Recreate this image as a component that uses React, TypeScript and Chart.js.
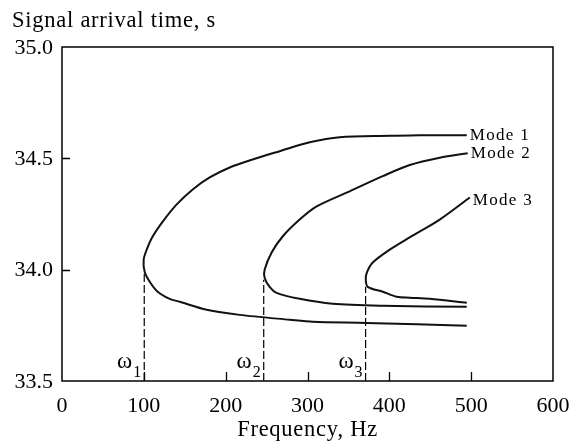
import React, { useEffect, useRef } from "react";
import { Chart, registerables } from "chart.js";

Chart.register(...registerables);

// ---- Data ----
const MODE1_FREQ = [494.6, 437, 400.5, 339.4, 302.7, 266, 233, 204.9, 180.5, 159.7, 140.2, 123.1, 110.8, 103.5, 99.8, 101, 107.2, 116.9, 131.6, 143.8, 176.8, 217.1, 278.3, 306.4, 372.3, 494.6];
const MODE1_TIME = [34.604, 34.604, 34.601, 34.595, 34.572, 34.532, 34.495, 34.459, 34.414, 34.36, 34.293, 34.216, 34.149, 34.09, 34.045, 33.991, 33.946, 33.901, 33.869, 33.856, 33.82, 33.797, 33.775, 33.766, 33.761, 33.748];

const MODE2_FREQ = [495.8, 461.6, 424.9, 391.9, 351.5, 311.2, 290.4, 269.6, 256.2, 247.6, 247.6, 253.7, 262.2, 290.4, 330.7, 391.9, 494.6];
const MODE2_TIME = [34.523, 34.503, 34.47, 34.42, 34.352, 34.284, 34.225, 34.149, 34.077, 34.0, 33.964, 33.923, 33.896, 33.869, 33.847, 33.838, 33.833];

const MODE3_FREQ = [498.3, 461.6, 424.9, 400.5, 379.7, 372.4, 371.2, 373.6, 392, 409, 425, 449.3, 494.6];
const MODE3_TIME = [34.324, 34.225, 34.145, 34.09, 34.032, 33.986, 33.955, 33.923, 33.901, 33.878, 33.874, 33.869, 33.851];

const MODE_LABELS = ["Mode 1", "Mode 2", "Mode 3"];

const OMEGA_FREQ = [100.5, 246.5, 371];
const OMEGA_TOP = [33.985, 33.955, 33.923];
const OMEGA_SUB = ["1", "2", "3"];

const X_TICKS = [0, 100, 200, 300, 400, 500, 600];
const Y_TICKS = ["33.5", "34.0", "34.5", "35.0"];
const X_INNER_TICKS = [100, 200, 300, 400, 500];
const Y_INNER_TICKS = [34.0, 34.5];

const X_TITLE = "Frequency, Hz";
const Y_TITLE = "Signal arrival time, s";

const SERIF = "'Liberation Serif', 'Times New Roman', serif";

function pts(xs: number[], ys: number[]) {
  return xs.map((x, i) => ({ x, y: ys[i] }));
}

const annotatePlugin = {
  id: "annotate",
  afterDraw(chart: any) {
    const ctx: CanvasRenderingContext2D = chart.ctx;
    const xs = chart.scales.x;
    const ys = chart.scales.y;
    const a = chart.chartArea;
    ctx.save();
    ctx.strokeStyle = "#000";
    ctx.fillStyle = "#000";

    // frame
    ctx.lineWidth = 1.5;
    ctx.strokeRect(a.left, a.top, a.right - a.left, a.bottom - a.top);

    // inward ticks
    ctx.lineWidth = 1.3;
    ctx.beginPath();
    X_INNER_TICKS.forEach((v) => {
      const px = Math.round(xs.getPixelForValue(v)) + 0.5;
      ctx.moveTo(px, a.bottom);
      ctx.lineTo(px, a.bottom - 9);
    });
    Y_INNER_TICKS.forEach((v) => {
      const py = Math.round(ys.getPixelForValue(v)) + 0.5;
      ctx.moveTo(a.left, py);
      ctx.lineTo(a.left + 8, py);
    });
    ctx.stroke();

    // tick labels
    ctx.font = `22px ${SERIF}`;
    ctx.textAlign = "center";
    ctx.textBaseline = "alphabetic";
    X_TICKS.forEach((v) => {
      ctx.fillText(String(v), xs.getPixelForValue(v), a.bottom + 31);
    });
    ctx.textAlign = "right";
    ctx.textBaseline = "middle";
    Y_TICKS.forEach((t) => {
      ctx.fillText(t, a.left - 9, ys.getPixelForValue(parseFloat(t)) + 1);
    });

    // titles
    ctx.font = `22.5px ${SERIF}`;
    (ctx as any).letterSpacing = "0.75px";
    ctx.textBaseline = "alphabetic";
    ctx.textAlign = "left";
    ctx.fillText(Y_TITLE, 12, 27);
    ctx.textAlign = "center";
    ctx.fillText(X_TITLE, (a.left + a.right) / 2, a.bottom + 55);

    // mode labels
    ctx.font = `17px ${SERIF}`;
    (ctx as any).letterSpacing = "1.3px";
    ctx.textAlign = "left";
    ctx.textBaseline = "middle";
    const ends = [
      [MODE1_FREQ[0], MODE1_TIME[0]],
      [MODE2_FREQ[0], MODE2_TIME[0]],
      [MODE3_FREQ[0], MODE3_TIME[0]],
    ];
    ends.forEach((e, i) => {
      const px = xs.getPixelForValue(e[0]);
      const py = ys.getPixelForValue(e[1]);
      ctx.fillText(MODE_LABELS[i], px + 3, py + (i === 2 ? 3 : 0));
    });

    // omega labels
    (ctx as any).letterSpacing = "0px";
    ctx.textBaseline = "alphabetic";
    ctx.textAlign = "right";
    OMEGA_FREQ.forEach((f, i) => {
      const lx = xs.getPixelForValue(f);
      ctx.font = `16px ${SERIF}`;
      const subRight = lx - 3;
      ctx.fillText(OMEGA_SUB[i], subRight, a.bottom - 4);
      const sw = ctx.measureText(OMEGA_SUB[i]).width;
      ctx.font = `23px ${SERIF}`;
      ctx.fillText("ω", subRight - sw - 1, a.bottom - 13);
    });

    ctx.restore();
  },
};

export default function App() {
  const ref = useRef<HTMLCanvasElement | null>(null);

  useEffect(() => {
    document.body.style.margin = "0";
    const canvas = ref.current;
    if (!canvas) return;

    const curve = (xs: number[], ys: number[]) => ({
      data: pts(xs, ys),
      showLine: true,
      borderColor: "#111",
      borderWidth: 2,
      pointRadius: 0,
      tension: 0.3,
      fill: false,
    });

    const dashed = OMEGA_FREQ.map((f, i) => ({
      data: [
        { x: f, y: 33.5 },
        { x: f, y: OMEGA_TOP[i] },
      ],
      showLine: true,
      borderColor: "#000",
      borderWidth: 1.2,
      borderDash: [8, 3],
      pointRadius: 0,
      tension: 0,
      fill: false,
    }));

    const chart = new Chart(canvas, {
      type: "scatter",
      data: {
        datasets: [
          curve(MODE1_FREQ, MODE1_TIME),
          curve(MODE2_FREQ, MODE2_TIME),
          curve(MODE3_FREQ, MODE3_TIME),
          ...dashed,
        ] as any,
      },
      options: {
        animation: false,
        responsive: false,
        devicePixelRatio: 1,
        layout: { padding: { top: 47, right: 18, bottom: 60, left: 62 } },
        plugins: {
          legend: { display: false },
          tooltip: { enabled: false },
          title: { display: false },
        },
        scales: {
          x: { type: "linear", min: 0, max: 600, display: false },
          y: { type: "linear", min: 33.5, max: 35.0, display: false },
        },
      },
      plugins: [annotatePlugin],
    });

    return () => chart.destroy();
  }, []);

  return (
    <div style={{ width: 571, height: 441, background: "#fff" }}>
      <canvas ref={ref} width={571} height={441} style={{ display: "block" }} />
    </div>
  );
}
